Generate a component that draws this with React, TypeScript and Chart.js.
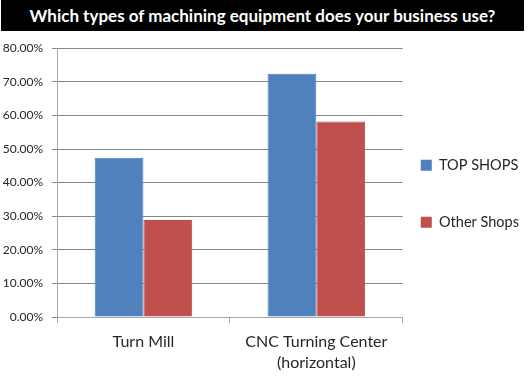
import React, { useEffect, useRef } from 'react';
import { Chart, registerables } from 'chart.js';

Chart.register(...registerables);

const titleText = 'Which types of machining equipment does your business use?';
const categories: (string | string[])[] = ['Turn Mill', ['CNC Turning Center', '(horizontal)']];
const seriesNames = ['TOP SHOPS', 'Other Shops'];
const topShops = [47.4, 72.4];
const otherShops = [28.9, 58.2];
const yMin = 0;
const yMax = 80;
const yStep = 10;

const FONT = 'Lato, "Open Sans", sans-serif';

export default function App() {
  const ref = useRef<HTMLCanvasElement | null>(null);

  useEffect(() => {
    if (!ref.current) return;
    const chart = new Chart(ref.current, {
      type: 'bar',
      data: {
        labels: categories as any,
        datasets: [
          {
            label: seriesNames[0],
            data: topShops,
            backgroundColor: '#4F81BD',
            borderColor: '#4A7EBB',
            borderWidth: 1,
          },
          {
            label: seriesNames[1],
            data: otherShops,
            backgroundColor: '#C0504D',
            borderColor: '#BE4B48',
            borderWidth: 1,
          },
        ],
      },
      options: {
        responsive: false,
        animation: false,
        layout: { padding: { top: 14, left: 0, right: 0, bottom: 0 } },
        datasets: {
          bar: { barPercentage: 1, categoryPercentage: 0.564 },
        },
        scales: {
          x: {
            grid: {
              display: true,
              offset: true,
              drawOnChartArea: false,
              drawTicks: true,
              tickLength: 6,
              color: '#A6A6A6',
            },
            border: { display: true, color: '#A6A6A6' },
            ticks: {
              color: '#262626',
              font: { family: FONT, size: 16, lineHeight: '21px' as any },
              padding: 8,
              maxRotation: 0,
              autoSkip: false,
            },
            afterFit: (scale: any) => {
              scale.height = 61;
            },
          },
          y: {
            min: yMin,
            max: yMax,
            ticks: {
              stepSize: yStep,
              color: '#262626',
              font: { family: FONT, size: 12 },
              padding: 9,
              callback: (v: any) => Number(v).toFixed(2) + '%',
            },
            grid: {
              color: '#878787',
              tickLength: 5,
              drawTicks: true,
            },
            border: { display: true, color: '#A6A6A6' },
            afterFit: (scale: any) => {
              scale.width = 57;
            },
          },
        },
        plugins: {
          title: { display: false },
          tooltip: { enabled: false },
          legend: {
            display: true,
            position: 'right',
            align: 'center',
            fullSize: false,
            title: {
              display: true,
              text: '',
              padding: 0,
              font: { family: FONT, size: 1, lineHeight: '47px' as any },
            },
            labels: {
              boxWidth: 11,
              boxHeight: 11,
              padding: 18,
              color: '#262626',
              font: { family: FONT, size: 14.5, lineHeight: '39px' as any },
              generateLabels: (c: any) => {
                const items = Chart.defaults.plugins.legend.labels.generateLabels(c);
                return items.map((it: any) => ({ ...it, text: [it.text], lineWidth: 0 }));
              },
            },
          },
        },
      },
    });
    return () => chart.destroy();
  }, []);

  return (
    <div style={{ position: 'fixed', left: 0, top: 0, width: 529, height: 378, background: '#fff', overflow: 'hidden' }}>
      <div
        style={{
          position: 'absolute',
          left: 1,
          top: 0,
          width: 523,
          height: 31,
          background: '#000',
          color: '#fff',
          fontFamily: FONT,
          fontWeight: 700,
          fontSize: 17,
          lineHeight: '31px',
          textAlign: 'center',
          whiteSpace: 'nowrap',
        }}
      >
        {titleText}
      </div>
      <canvas ref={ref} width={529} height={346} style={{ position: 'absolute', left: 0, top: 32, width: 529, height: 346 }} />
    </div>
  );
}
